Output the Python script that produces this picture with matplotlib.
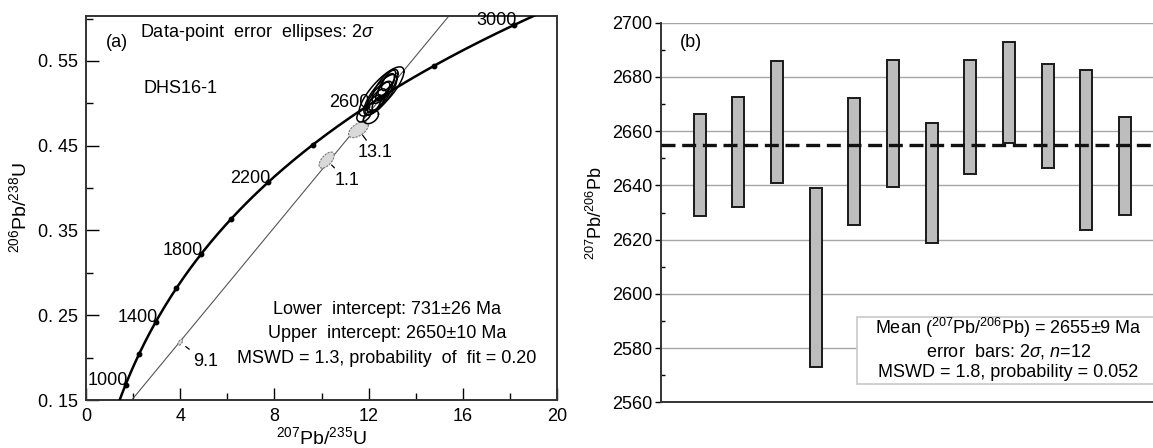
import numpy as np
import matplotlib
matplotlib.use('Agg')
import matplotlib.pyplot as plt
from matplotlib.patches import Rectangle

plt.rcParams['font.family'] = ['Liberation Sans', 'DejaVu Sans']
plt.rcParams['mathtext.fontset'] = 'custom'
plt.rcParams['mathtext.rm'] = 'Liberation Sans'
plt.rcParams['mathtext.it'] = 'Liberation Sans:italic'
plt.rcParams['mathtext.bf'] = 'Liberation Sans:bold'

# ---------------- data: panel (a) concordia ----------------
LAMBDA_238 = 1.55125e-10
LAMBDA_235 = 9.8485e-10
concordia_dot_ages = [1000, 1200, 1400, 1600, 1800, 2000, 2200, 2400, 2600, 2800, 3000]
concordia_label_ages = [1000, 1400, 1800, 2200, 2600, 3000]
lower_intercept_ma = 731
upper_intercept_ma = 2650

# concordant spots (2 sigma ellipses): centre, 2s errors, correlation
ell_x = [12.55, 12.70, 12.45, 12.75, 12.35, 12.60, 12.85, 12.20, 12.50, 11.80, 12.10, 12.40]
ell_y = [0.514, 0.520, 0.508, 0.522, 0.503, 0.514, 0.527, 0.498, 0.510, 0.486, 0.484, 0.500]
ell_sx = [0.95, 0.55, 0.55, 0.35, 0.40, 0.30, 0.30, 0.35, 0.70, 0.30, 0.32, 0.25]
ell_sy = [0.029, 0.020, 0.018, 0.013, 0.014, 0.011, 0.012, 0.012, 0.024, 0.008, 0.008, 0.009]
ell_rho = [0.81, 0.75, 0.75, 0.70, 0.70, 0.70, 0.70, 0.70, 0.78, 0.40, 0.40, 0.60]

# discordant (grey) spots
grey_x = [4.00, 10.22, 11.57]
grey_y = [0.218, 0.433, 0.469]
grey_sx = [0.10, 0.32, 0.42]
grey_sy = [0.0035, 0.0095, 0.0095]
grey_rho = [0.6, 0.6, 0.55]
grey_labels = ['9.1', '1.1', '13.1']

x_ticks_a = [0, 4, 8, 12, 16, 20]
y_ticks_a = [0.15, 0.25, 0.35, 0.45, 0.55]
y_ticklabels_a = ['0. 15', '0. 25', '0. 35', '0. 45', '0. 55']

# ---------------- data: panel (b) 207Pb/206Pb ages ----------------
spot_index = list(range(1, 13))
bar_low = [2628.7, 2632.2, 2640.8, 2573.1, 2625.4, 2639.3, 2618.9, 2644.1, 2655.5, 2646.5, 2623.6, 2629.1]
bar_high = [2666.3, 2672.7, 2685.9, 2638.9, 2672.1, 2686.3, 2662.9, 2686.3, 2693.0, 2684.7, 2682.6, 2665.1]
mean_age = 2655
y_ticks_b = [2560, 2580, 2600, 2620, 2640, 2660, 2680, 2700]


def conc(t_ma):
    t = np.asarray(t_ma, dtype=float) * 1e6
    return np.exp(LAMBDA_235 * t) - 1, np.exp(LAMBDA_238 * t) - 1


def ellipse(cx, cy, sx, sy, rho, n=120):
    th = np.linspace(0, 2 * np.pi, n)
    x = cx + sx * np.cos(th)
    y = cy + sy * (rho * np.cos(th) + np.sqrt(1 - rho ** 2) * np.sin(th))
    return x, y


FS = 13
W, H = 1153, 448
fig = plt.figure(figsize=(W / 100, H / 100), dpi=100)

# ================= panel (a) =================
axa = fig.add_axes([86 / W, 1 - 400 / H, 471 / W, 384 / H])
axa.set_xlim(0, 20)
axa.set_ylim(0.15, 0.603)

# concordia curve
tt = np.linspace(800, 3300, 400)
cx_, cy_ = conc(tt)
axa.plot(cx_, cy_, color='black', lw=1.8, zorder=3)
dx, dy = conc(concordia_dot_ages)
axa.plot(dx, dy, 'o', color='black', ms=3.2, zorder=4)
lx, ly = conc(concordia_label_ages)
for a, x, y in zip(concordia_label_ages, lx, ly):
    axa.annotate(str(a), (x, y), xytext=(2, 4), textcoords='offset pixels',
                 ha='right', va='center', fontsize=FS, zorder=5)

# discordia
lix, liy = conc(lower_intercept_ma)
uix, uiy = conc(upper_intercept_ma)
xs = np.array([0.0, 20.0])
slope = (uiy - liy) / (uix - lix)
axa.plot(xs, liy + slope * (xs - lix), color='#555555', lw=0.8, zorder=2)

# concordant ellipses
for cx, cy, sx, sy, r in zip(ell_x, ell_y, ell_sx, ell_sy, ell_rho):
    ex, ey = ellipse(cx, cy, sx, sy, r)
    axa.plot(ex, ey, color='black', lw=1.1, zorder=5)

# grey ellipses with labels
label_offsets = [(25, -19), (20, -20), (17, -23)]
for cx, cy, sx, sy, r, lab, off in zip(grey_x, grey_y, grey_sx, grey_sy, grey_rho,
                                       grey_labels, label_offsets):
    ex, ey = ellipse(cx, cy, sx, sy, r)
    axa.fill(ex, ey, facecolor='#d9d9d9', edgecolor='#777777', lw=0.8,
             linestyle=(0, (2, 1)), zorder=4)
    axa.annotate(lab, (cx, cy), xytext=off, textcoords='offset pixels',
                 ha='center', va='center', fontsize=FS,
                 arrowprops=dict(arrowstyle='-', color='black', lw=0.9,
                                 shrinkA=1, shrinkB=5), zorder=5)

axa.text(0.065, 0.932, '(a)', transform=axa.transAxes, fontsize=FS, ha='center', va='center')
axa.text(0.115, 0.956, r'Data-point  error  ellipses: 2$\it{\sigma}$',
         transform=axa.transAxes, fontsize=FS, ha='left', va='center')
axa.text(0.123, 0.81, 'DHS16-1', transform=axa.transAxes, fontsize=FS, ha='left', va='center')
axa.text(12.77, 0.257, 'Lower  intercept: 731±26 Ma', fontsize=FS, ha='center', va='center')
axa.text(12.77, 0.228, 'Upper  intercept: 2650±10 Ma', fontsize=FS, ha='center', va='center')
axa.text(12.77, 0.1995, 'MSWD = 1.3, probability  of  fit = 0.20', fontsize=FS, ha='center', va='center')

axa.set_xticks(x_ticks_a)
axa.set_xticks([2, 6, 10, 14, 18], minor=True)
axa.set_yticks(y_ticks_a)
axa.set_yticklabels(y_ticklabels_a)
axa.set_yticks([0.20, 0.30, 0.40, 0.50, 0.60], minor=True)
axa.tick_params(which='major', direction='in', length=9, width=1.0, labelsize=FS, pad=6)
axa.tick_params(which='minor', direction='in', length=5, width=1.0)
for s in axa.spines.values():
    s.set_linewidth(1.4)
    s.set_color('#333333')
axa.set_xlabel(r'$^{207}$Pb/$^{235}$U', fontsize=FS + 1, va='center')
axa.xaxis.set_label_coords(0.5, -0.096)
axa.set_ylabel(r'$^{206}$Pb/$^{238}$U', fontsize=FS + 1, va='center', ha='center')
axa.yaxis.set_label_coords(-0.142, 0.5)

# ================= panel (b) =================
axb = fig.add_axes([661 / W, 1 - 402.3 / H, 492 / W, 379.6 / H])
axb.set_ylim(2560, 2700)
axb.set_xlim(0, 12.72)
axb.set_yticks(y_ticks_b)
axb.set_yticks(np.arange(2570, 2700, 20), minor=True)
axb.yaxis.grid(True, which='major', color='#a6a6a6', lw=1.0, zorder=0)
axb.set_axisbelow(True)

heights = [h - l for l, h in zip(bar_low, bar_high)]
axb.bar(spot_index, heights, bottom=bar_low, width=0.31, color='#bdbdbd',
        edgecolor='#1a1a1a', linewidth=1.4, zorder=3)
axb.axhline(mean_age, color='#111111', lw=2.4, linestyle=(0, (4.2, 2.0)), zorder=4)

axb.add_patch(Rectangle((0.398, 0.0474), 0.61, 0.178, transform=axb.transAxes,
                        facecolor='white', edgecolor='#c8c8c8', lw=1.2, zorder=5,
                        clip_on=False))
axb.text(8.98, 2587.5, r'Mean ($^{207}$Pb/$^{206}$Pb) = 2655±9 Ma', fontsize=FS,
         ha='center', va='center', zorder=6)
axb.text(8.98, 2578.6, r'error  bars: 2$\it{\sigma}$, $\it{n}$=12', fontsize=FS,
         ha='center', va='center', zorder=6)
axb.text(8.98, 2571.0, 'MSWD = 1.8, probability = 0.052', fontsize=FS,
         ha='center', va='center', zorder=6)

axb.text(0.061, 0.949, '(b)', transform=axb.transAxes, fontsize=FS, ha='center', va='center')

axb.spines['top'].set_visible(False)
axb.spines['right'].set_visible(False)
for s in ('left', 'bottom'):
    axb.spines[s].set_linewidth(1.4)
    axb.spines[s].set_color('#333333')
axb.set_xticks([])
axb.tick_params(axis='y', which='major', direction='out', length=4, width=1.0, labelsize=FS, pad=2)
axb.tick_params(axis='y', which='minor', direction='in', length=3, width=1.0)
axb.set_ylabel(r'$^{207}$Pb/$^{206}$Pb', fontsize=FS, va='center', ha='center')
axb.yaxis.set_label_coords(-0.132, 0.499)

fig.savefig('out.png', dpi=100)
